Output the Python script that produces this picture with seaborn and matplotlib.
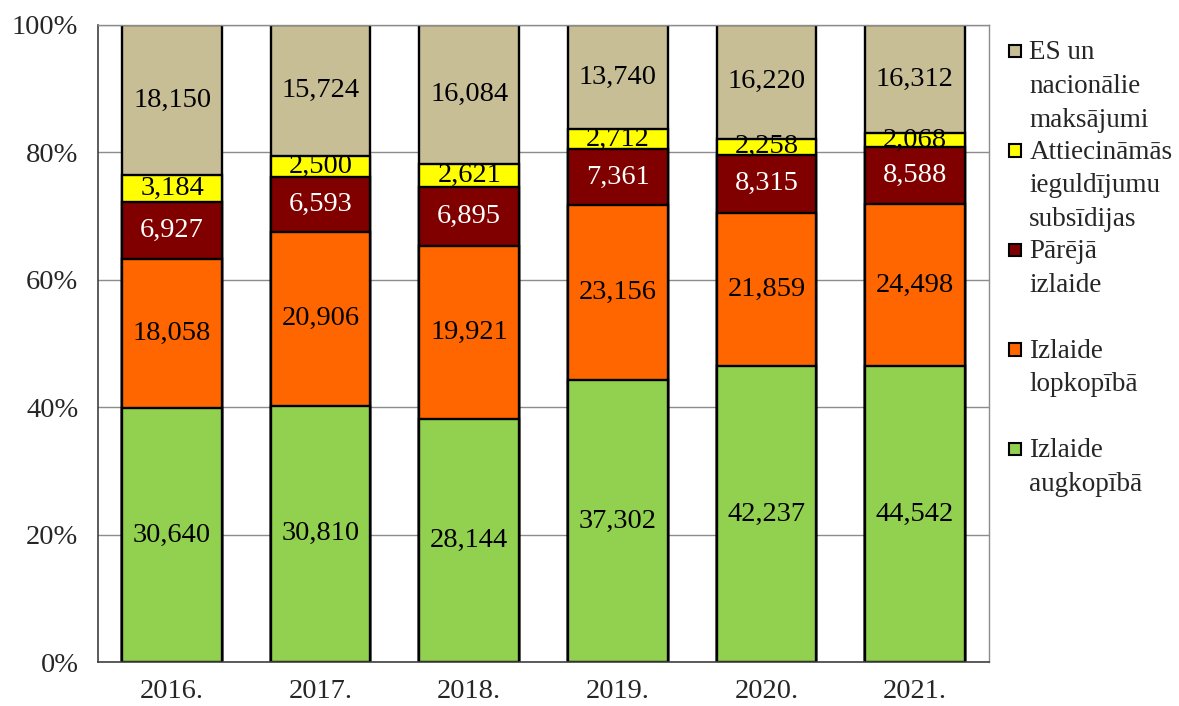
import matplotlib
matplotlib.use("Agg")
import matplotlib.pyplot as plt
import matplotlib.patches as mpatches
from matplotlib.legend_handler import HandlerPatch
import numpy as np
import pandas as pd
import seaborn as sns

years = ["2016.", "2017.", "2018.", "2019.", "2020.", "2021."]
augkopiba = [30640, 30810, 28144, 37302, 42237, 44542]
lopkopiba = [18058, 20906, 19921, 23156, 21859, 24498]
pareja = [6927, 6593, 6895, 7361, 8315, 8588]
subsidijas = [3184, 2500, 2621, 2712, 2258, 2068]
maksajumi = [18150, 15724, 16084, 13740, 16220, 16312]

# bottom to top
series = [
    ("Izlaide\naugkopībā\n", augkopiba, "#92D050", "black"),
    ("Izlaide\nlopkopībā\n", lopkopiba, "#FF6600", "black"),
    ("Pārējā\nizlaide\n", pareja, "#800000", "white"),
    ("Attiecināmās\nieguldījumu\nsubsīdijas", subsidijas, "#FFFF00", "black"),
    ("ES un\nnacionālie\nmaksājumi", maksajumi, "#C8BE96", "black"),
]

sns.set_style("white")
plt.rcParams["font.family"] = ["Liberation Serif", "DejaVu Serif"]
FS = 20.5
LFS = 19.5

vals = np.array([s[1] for s in series], dtype=float)
shares = vals / vals.sum(axis=0) * 100
cum = shares.cumsum(axis=0)

fig = plt.figure(figsize=(11.79, 7.06), dpi=100)
ax = fig.add_axes([0.083, 0.0623, 0.756, 0.9023])
ax.set_axisbelow(True)
ax.yaxis.grid(True, color="#8c8c8c", linewidth=1)

# draw cumulative bars from the top series down so each covers the ones below
for i in range(len(series) - 1, -1, -1):
    df = pd.DataFrame({"year": years, "cum": cum[i]})
    sns.barplot(data=df, x="year", y="cum", color=series[i][2], saturation=1,
                width=0.67, edgecolor="black", linewidth=1.7, ax=ax, zorder=2)

for i, (name, v, col, tcol) in enumerate(series):
    for j in range(len(years)):
        mid = cum[i][j] - shares[i][j] / 2
        ax.text(j, mid, f"{v[j]:,}", ha="center", va="center", fontsize=FS,
                color=tcol, zorder=5)

ax.set_xlim(-0.5, 5.5)
ax.set_ylim(0, 100)
ax.set_yticks(np.arange(0, 101, 20))
ax.set_yticklabels([f"{t}%" for t in range(0, 101, 20)], fontsize=FS)
ax.set_xticks(range(6))
ax.set_xticklabels(years, fontsize=FS)
ax.set_xticks(np.arange(-0.5, 6, 1), minor=True)
ax.tick_params(axis="x", which="major", length=0, pad=12)
ax.tick_params(axis="x", which="minor", length=8, width=1, color="#404040", direction="out")
ax.tick_params(axis="y", length=8, width=1, color="#404040", direction="out", pad=6)
ax.set_xlabel("")
ax.set_ylabel("")
for side in ["left", "bottom"]:
    ax.spines[side].set_color("#404040")
    ax.spines[side].set_linewidth(1.2)
for side in ["top", "right"]:
    ax.spines[side].set_color("#8c8c8c")
    ax.spines[side].set_linewidth(1)


def square(legend, orig_handle, xdescent, ydescent, width, height, fontsize):
    s = 0.46 * fontsize
    return mpatches.Rectangle((-xdescent, -ydescent + 1.36 * fontsize), s, s)


handles = [mpatches.Patch(facecolor=s[2], edgecolor="black", linewidth=1.5)
           for s in series][::-1]
labels = [s[0] for s in series][::-1]
leg = fig.legend(handles, labels, loc="upper left", bbox_to_anchor=(0.8395, 0.97),
                 frameon=False, fontsize=LFS, handlelength=0.46, handleheight=0.5,
                 handletextpad=0.3, labelspacing=0.26, borderpad=0.2,
                 handler_map={mpatches.Patch: HandlerPatch(patch_func=square)})
for t in leg.get_texts():
    t.set_linespacing(1.46)

fig.savefig("out.png", dpi=100)
